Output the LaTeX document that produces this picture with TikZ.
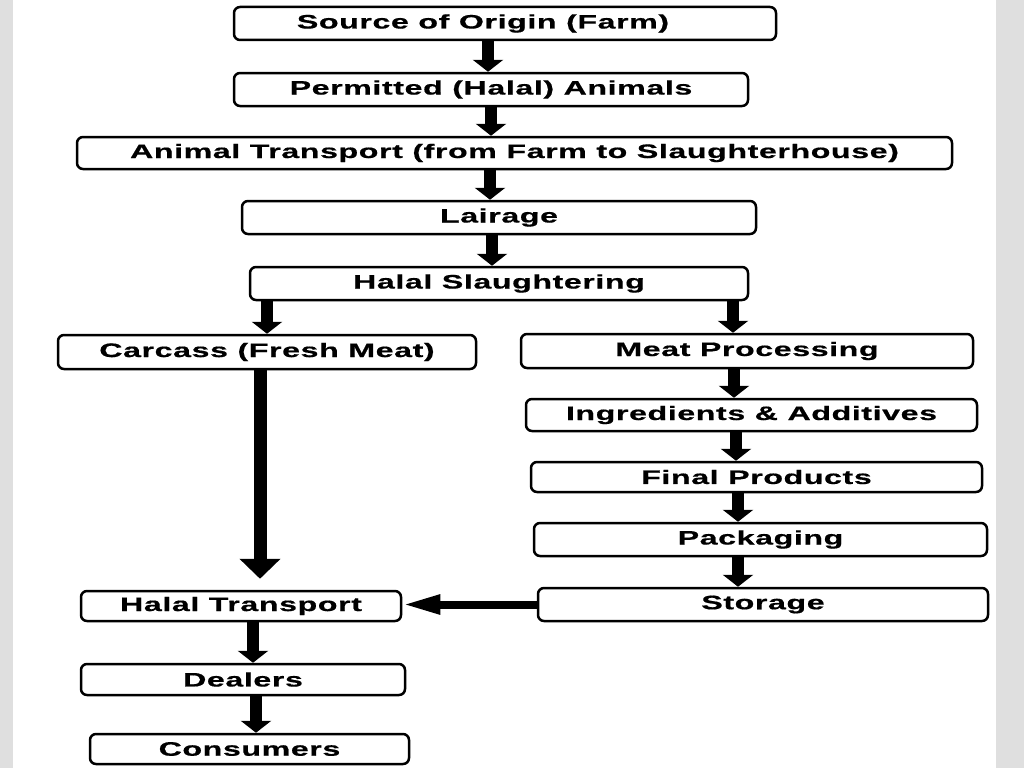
\documentclass[tikz,border=0pt]{standalone}
\usepackage{fontspec}
\usepackage{tikz}
\usetikzlibrary{arrows.meta}
\newfontfamily\boxfont{Liberation Sans}[FakeStretch=1.65, LetterSpace=3, FakeBold=0.6]
\tikzset{
  hbox/.style={draw, line width=2.5pt, rounded corners=6pt, inner sep=0pt,
               font=\boxfont\bfseries\fontsize{19.5}{20}\selectfont},
  barr/.style={line width=12pt, -{Triangle[width=30pt, length=12pt]}},
  larr/.style={line width=13pt, -{Triangle[width=40pt, length=20pt]}},
  sarr/.style={line width=8pt, -{Triangle[width=18pt, length=38pt]}},
}
\begin{document}
\begin{tikzpicture}[x=1pt, y=-1pt]
\useasboundingbox (0,0) rectangle (1024,768);
\fill[gray!25] (0,0) rectangle (13,768);
\fill[gray!25] (996,0) rectangle (1024,768);
% main chain
\node[hbox, minimum width=542pt, minimum height=33pt] (src)  at (505,23.5) {Source of Origin (Farm)\hspace*{44pt}};
\node[hbox, minimum width=514pt, minimum height=33pt] (perm) at (491,89.5) {Permitted (Halal) Animals};
\node[hbox, minimum width=875pt, minimum height=32pt] (trans) at (514.5,153) {Animal Transport (from Farm to Slaughterhouse)};
\node[hbox, minimum width=514pt, minimum height=33pt] (lair) at (499,217.5) {Lairage};
\node[hbox, minimum width=498pt, minimum height=33pt] (slau) at (499,283.5) {Halal Slaughtering};
% left branch
\node[hbox, minimum width=418pt, minimum height=34pt] (carc) at (267,352) {Carcass (Fresh Meat)};
% right branch
\node[hbox, minimum width=452pt, minimum height=34pt] (proc) at (747,351) {Meat Processing};
\node[hbox, minimum width=451pt, minimum height=32pt] (ingr) at (751.5,415) {Ingredients \& Additives};
\node[hbox, minimum width=451pt, minimum height=30pt] (fin)  at (756.5,477) {Final Products};
\node[hbox, minimum width=453pt, minimum height=33pt] (pack) at (760.5,539.5) {Packaging};
\node[hbox, minimum width=450pt, minimum height=33pt] (stor) at (763,604.5) {Storage};
% distribution
\node[hbox, minimum width=320pt, minimum height=30pt] (htr)  at (241,606) {Halal Transport};
\node[hbox, minimum width=324pt, minimum height=31pt] (deal) at (243,679.5) {Dealers};
\node[hbox, minimum width=319pt, minimum height=30pt] (cons) at (249.5,749) {Consumers};
\draw[barr] ([xshift=-17pt]src.south) -- ([xshift=-17pt]src.south |- perm.north);
\draw[barr] (perm.south) -- (perm.south |- trans.north);
\draw[barr] ([xshift=-9pt]lair.north |- trans.south) -- ([xshift=-9pt]lair.north);
\draw[barr] ([xshift=-7pt]lair.south) -- ([xshift=-7pt]lair.south |- slau.north);
\draw[barr] (carc.north |- slau.south) -- (carc.north);
\draw[barr] ([xshift=-14pt]proc.north |- slau.south) -- ([xshift=-14pt]proc.north);
\draw[barr] ([xshift=-13pt]proc.south) -- ([xshift=-13pt]proc.south |- ingr.north);
\draw[barr] ([xshift=-15.5pt]ingr.south) -- ([xshift=-15.5pt]ingr.south |- fin.north);
\draw[barr] ([xshift=-18.5pt]fin.south) -- ([xshift=-18.5pt]fin.south |- pack.north);
\draw[barr] ([xshift=-22.5pt]pack.south) -- ([xshift=-22.5pt]pack.south |- stor.north);
\draw[larr] ([xshift=-7pt]carc.south) -- ([xshift=19pt, yshift=11pt]htr.north);
\draw[sarr] (stor.west) -- (stor.west -| htr.east);
\draw[barr] ([xshift=12pt]htr.south) -- ([xshift=12pt]htr.south |- deal.north);
\draw[barr] ([xshift=13pt]deal.south) -- ([xshift=13pt]deal.south |- cons.north);
\end{tikzpicture}
\end{document}
